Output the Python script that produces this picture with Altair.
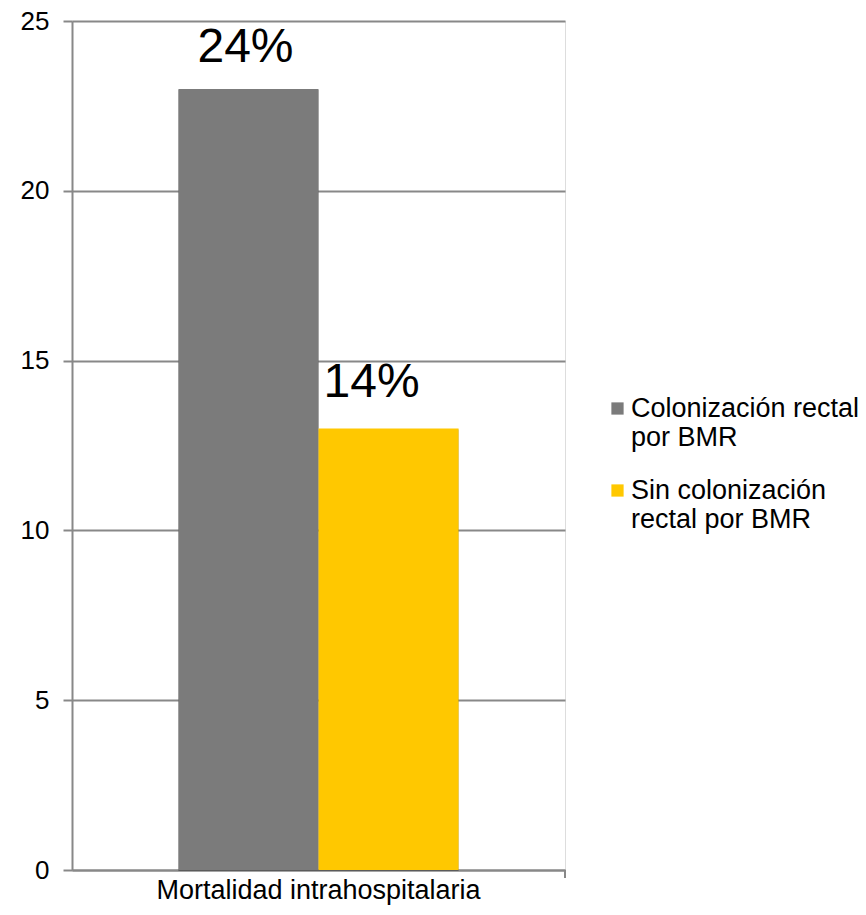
import altair as alt
import pandas as pd

categories = ["Mortalidad intrahospitalaria", "Mortalidad intrahospitalaria"]
series = ["Colonización rectal\npor BMR", "Sin colonización\nrectal por BMR"]
values = [23, 13]
pct_labels = ["24%", "14%"]
colors = ["#7b7b7b", "#ffc800"]

df = pd.DataFrame({
    "categoria": categories,
    "grupo": series,
    "valor": values,
    "etiqueta": pct_labels,
})

FONT = "Liberation Sans"
GRID = "#888888"
W, H = 493, 849

x_enc = alt.X(
    "categoria:N",
    title=None,
    scale=alt.Scale(paddingInner=0, paddingOuter=0.38),
    axis=alt.Axis(
        labelAngle=0,
        labelFontSize=27,
        labelFont=FONT,
        labelColor="#000000",
        labelPadding=7,
        labelLimit=600,
        ticks=False,
        domainColor=GRID,
        domainWidth=2,
    ),
)
xoff_enc = alt.XOffset("grupo:N", sort=series, scale=alt.Scale(paddingInner=0, paddingOuter=0))
y_enc = alt.Y(
    "valor:Q",
    title=None,
    scale=alt.Scale(domain=[0, 25], nice=False),
    axis=alt.Axis(
        values=[0, 5, 10, 15, 20, 25],
        labelFontSize=26,
        labelFont=FONT,
        labelColor="#000000",
        labelPadding=14,
        tickSize=9,
        tickColor=GRID,
        tickWidth=2,
        domainColor=GRID,
        domainWidth=2,
        gridColor=GRID,
        gridWidth=2,
    ),
)

base = alt.Chart(df)

# soft drop shadow to the right of each bar
shadows = [
    base.mark_bar(color="#000000", opacity=0.12, xOffset=off, yOffset=1)
    .encode(x=x_enc, xOffset=xoff_enc, y=y_enc)
    for off in (2, 4, 6)
]

bars = base.mark_bar().encode(
    x=x_enc,
    xOffset=xoff_enc,
    y=y_enc,
    color=alt.Color(
        "grupo:N",
        sort=series,
        scale=alt.Scale(domain=series, range=colors),
        legend=alt.Legend(
            title=None,
            orient="none",
            legendX=532,
            legendY=374,
            padding=0,
            symbolType="square",
            symbolSize=150,
            symbolOffset=0,
            symbolStrokeWidth=0,
            labelFont=FONT,
            labelFontSize=27,
            labelColor="#000000",
            labelLimit=400,
            labelOffset=0,
            rowPadding=25,
            labelExpr="split(datum.label, '\\n')",
        ),
    ),
)

# value labels above each bar
label_first = base.transform_filter(alt.datum.grupo == series[0]).mark_text(
    font=FONT, fontSize=48, color="#000000", baseline="alphabetic", dy=-27, dx=-3
).encode(x=x_enc, xOffset=xoff_enc, y=y_enc, text="etiqueta:N")
label_second = base.transform_filter(alt.datum.grupo == series[1]).mark_text(
    font=FONT, fontSize=48, color="#000000", baseline="alphabetic", dy=-32, dx=-17
).encode(x=x_enc, xOffset=xoff_enc, y=y_enc, text="etiqueta:N")

# end tick on the category axis
end_tick = alt.Chart(df).mark_rule(color=GRID, strokeWidth=2).encode(
    x=alt.value(W), y=alt.value(H), y2=alt.value(H + 8)
)

chart = (
    alt.layer(*shadows, bars, label_first, label_second, end_tick)
    .properties(
        width=W,
        height=H,
        autosize=alt.AutoSizeParams(type="none"),
        padding={"left": 72, "top": 21, "right": 301, "bottom": 45},
    )
    .configure_view(stroke=None)
    .configure(background="#ffffff")
)

chart.save("out.html", embed_options={"renderer": "svg", "actions": False})
